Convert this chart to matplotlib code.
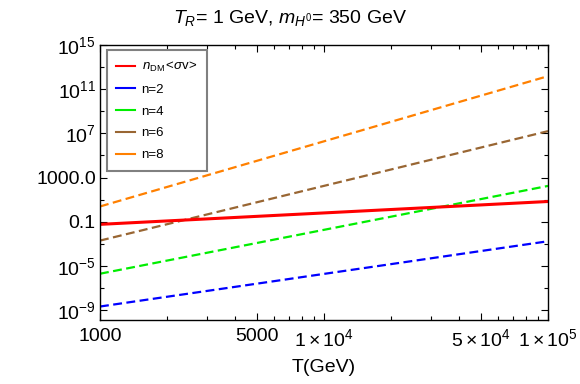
import matplotlib
matplotlib.use("Agg")
import matplotlib.pyplot as plt
from matplotlib.lines import Line2D

plt.rcParams['font.family'] = 'Liberation Sans'
plt.rcParams['mathtext.fontset'] = 'custom'
plt.rcParams['mathtext.rm'] = 'Liberation Sans'
plt.rcParams['mathtext.it'] = 'Liberation Sans:italic'

# valores (extremos das retas, escala log-log)
T = [1e3, 1e5]
sigma_v = [10**-1.24, 10**0.83]
n2 = [10**-8.68, 10**-2.77]
n4 = [10**-5.71, 10**2.24]
n6 = [10**-2.71, 10**7.2]
n8 = [10**0.38, 10**12.18]

nomes = [r'$n_{\mathrm{DM}}\,$<$\sigma$v>', 'n=2', 'n=4', 'n=6', 'n=8']
cores = ['#ff0000', '#0000ff', '#00ee00', '#996633', '#ff8000']

xticks = [1e3, 5e3, 1e4, 5e4, 1e5]
xlabels = ['1000', '5000', r'$1\times10^{4}$', r'$5\times10^{4}$', r'$1\times10^{5}$']
yticks = [1e-9, 1e-5, 1e-1, 1e3, 1e7, 1e11, 1e15]
ylabels = [r'$10^{-9}$', r'$10^{-5}$', '0.1', '1000.0', r'$10^{7}$', r'$10^{11}$', r'$10^{15}$']

fig = plt.figure(figsize=(5.8, 3.84), dpi=100)
ax = fig.add_axes([100/580, 1-320/384, 448/580, 275/384])

# curvas tracejadas
for serie, cor in zip([n2, n4, n6, n8], cores[1:]):
    ax.plot(T, serie, color=cor, lw=1.6, dashes=(4, 2))
ax.plot(T, sigma_v, color=cores[0], lw=2.2)

ax.set_xscale('log')
ax.set_yscale('log')
ax.set_xlim(1e3, 1e5)
ax.set_ylim(10**-9.9, 1e15)

ax.set_xticks(xticks)
ax.set_xticklabels(xlabels)
minx = [m*10**e for e in [3, 4] for m in range(2, 10) if m != 5]
ax.set_xticks(minx, minor=True)
ax.set_yticks(yticks)
ax.set_yticklabels(ylabels)
ax.set_yticks([10.0**e for e in range(-7, 15, 4)], minor=True)
ax.yaxis.set_minor_formatter(matplotlib.ticker.NullFormatter())
ax.xaxis.set_minor_formatter(matplotlib.ticker.NullFormatter())

ax.tick_params(which='both', direction='in', top=True, right=True, labelsize=14, width=0.8)
ax.tick_params(which='major', length=5)
ax.tick_params(axis='x', which='major', pad=6)
ax.tick_params(axis='y', which='major', pad=3)
ax.tick_params(which='minor', length=3)
for s in ax.spines.values():
    s.set_linewidth(1.0)

ax.set_xlabel('T(GeV)', fontsize=14, labelpad=6)
fig.suptitle(r'$T_R$= 1 GeV, $m_{H^0}$= 350 GeV', fontsize=14, x=0.5, y=0.98)

handles = [Line2D([0], [0], color=c, lw=1.5) for c in cores]
leg = ax.legend(handles, nomes, loc='upper left', bbox_to_anchor=(0.0, 1.005),
                fontsize=9.5, handlelength=1.4, handletextpad=0.5,
                labelspacing=0.72, borderpad=0.75, fancybox=False, framealpha=1)
leg.get_frame().set_edgecolor('#808080')
leg.get_frame().set_linewidth(1.5)

fig.savefig('out.png', dpi=100)
